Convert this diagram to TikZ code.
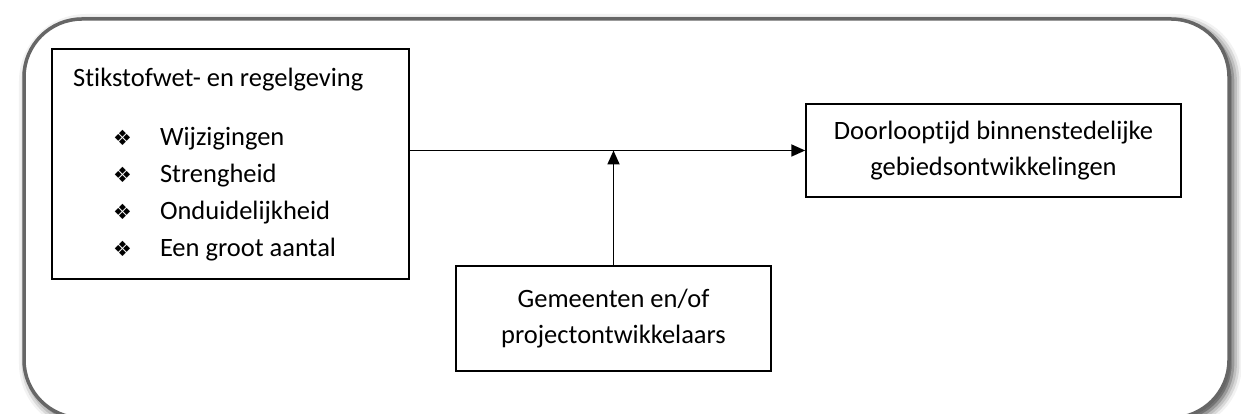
\documentclass[tikz,border=0pt]{standalone}
\usepackage{fontspec}
\setmainfont{Carlito}[Ligatures=NoCommon]
\newfontfamily\symfont{DejaVu Sans}
\usetikzlibrary{arrows.meta,positioning,shadows.blur}
\definecolor{framegray}{HTML}{666666}
\tikzset{
  frame/.style={
    draw=framegray,
    line width=3.5pt,
    rounded corners=58pt,
    fill=white,
    blur shadow={shadow xshift=4pt,shadow yshift=-4pt,shadow blur radius=9pt,shadow opacity=80}
  },
  box/.style={
    draw=black,
    line width=1.5pt,
    inner sep=0pt,
    align=center,
    font=\fontsize{26.5}{36}\selectfont
  },
  txt/.style={
    inner sep=0pt,
    font=\fontsize{26.5}{37}\selectfont
  },
  pijl/.style={
    -{Triangle[length=14pt,width=12pt]},
    draw=black,
    line width=1.8pt
  }
}
\newcommand{\ster}{{\symfont\fontsize{21}{21}\selectfont ❖}}

\begin{document}
\begin{tikzpicture}[x=1pt,y=1pt]
  \useasboundingbox (0,0) rectangle (1241,414);
  % achtergrondkader
  \draw[frame] (24,-4) rectangle (1229,395);

  \node[box, minimum width=357pt, minimum height=230pt] (wet) at (230.5,250) {};
  \node[txt, anchor=base west] (wettitel) at (73,327) {Stikstofwet- en regelgeving};
  \node[txt, anchor=base west] (wetlijst) at (113,268)
    {\begin{tabular}[t]{@{}l@{\hspace{28pt}}l@{}}
      \ster & Wijzigingen\\
      \ster & Strengheid\\
      \ster & Onduidelijkheid\\
      \ster & Een groot aantal
    \end{tabular}};

  \node[box, minimum width=375pt, minimum height=93pt] (doel) at (993.5,263.5)
    {Doorlooptijd binnenstedelijke\\gebiedsontwikkelingen};

  \node[box, minimum width=315pt, minimum height=105pt] (actor) at (613.5,95.5)
    {Gemeenten en/of\\projectontwikkelaars};

  \coordinate (knik) at (actor.north |- doel.west);

  \draw[pijl] (wet.east |- doel.west) -- (doel.west);
  \draw[pijl] (actor.north) -- (knik);
\end{tikzpicture}
\end{document}
